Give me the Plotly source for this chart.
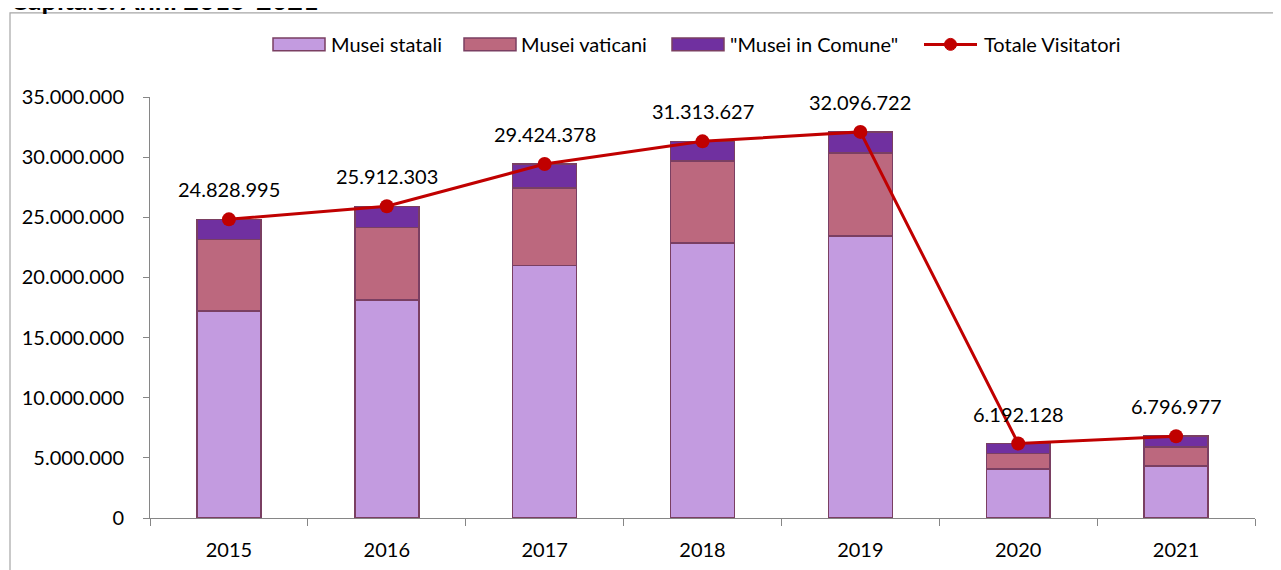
import plotly.graph_objects as go

anni = [2015, 2016, 2017, 2018, 2019, 2020, 2021]
anni_label = ["2015", "2016", "2017", "2018", "2019", "2020", "2021"]
musei_statali = [17220000, 18130000, 20990000, 22870000, 23450000, 4070000, 4340000]
musei_vaticani = [5950000, 6010000, 6440000, 6810000, 6890000, 1300000, 1580000]
totale_visitatori = [24828995, 25912303, 29424378, 31313627, 32096722, 6192128, 6796977]
musei_comune = [t - s - v for t, s, v in zip(totale_visitatori, musei_statali, musei_vaticani)]
y_ticks = [0, 5000000, 10000000, 15000000, 20000000, 25000000, 30000000, 35000000]
y_tick_text = ["0", "5.000.000", "10.000.000", "15.000.000", "20.000.000",
               "25.000.000", "30.000.000", "35.000.000"]
serie_nomi = ["Musei statali", "Musei vaticani", '"Musei in Comune"', "Totale Visitatori"]
serie_colori = ["#C39BE0", "#BC687E", "#7030A0", "#C00000"]

FONT = "Lato"
W, H = 1281, 570
OFF = 8  # page body margin
# plot area in screen pixels
SX0, SX1, SY0, SY1 = 150, 1255, 96.7, 518.3
L = SX0 - OFF
R = W - (SX1 - OFF)
T = SY0 - OFF
B = H - (SY1 - OFF)
pw, ph = SX1 - SX0, SY1 - SY0

def px(sx):
    return (sx - SX0) / pw

def py(sy):
    return (SY1 - sy) / ph

def fmt(v):
    return f"{v:,}".replace(",", ".")

OUTLINE_C = "#7A3F62"
outline = dict(color=OUTLINE_C, width=1.5)
BW = 0.405

fig = go.Figure()
for nome, col, vals in zip(serie_nomi[:3], serie_colori[:3],
                           [musei_statali, musei_vaticani, musei_comune]):
    fig.add_trace(go.Bar(x=anni, y=vals, name=nome,
                         marker=dict(color=col, line=outline), width=BW))
fig.add_trace(go.Scatter(x=anni, y=totale_visitatori, name=serie_nomi[3],
                         mode="lines+markers",
                         line=dict(color=serie_colori[3], width=3),
                         marker=dict(color=serie_colori[3], size=14)))

for a, t in zip(anni, totale_visitatori):
    fig.add_annotation(x=a, y=t, text=fmt(t), showarrow=False, yshift=30,
                       font=dict(family=FONT, size=20, color="#000000"))

# title (partially cut at top, as in reference)
fig.add_annotation(xref="paper", yref="paper", x=px(OFF), y=py(17.5),
                   xanchor="left", yanchor="bottom", showarrow=False,
                   text="<b>Capitale. Anni 2015-2021</b>",
                   font=dict(family=FONT, size=27, color="#000000"))

# outer frame
fig.add_shape(type="rect", xref="paper", yref="paper",
              x0=px(10), x1=px(1300), y0=py(620), y1=py(12.5),
              line=dict(color="#A6A6A6", width=1.2), fillcolor="rgba(0,0,0,0)",
              layer="below")

# legend (drawn like the reference: wide boxes)
box_x = [273, 464, 672]
text_x = [329, 519, 728, 982]
LY = 44
for bx, col in zip(box_x, serie_colori[:3]):
    fig.add_shape(type="rect", xref="paper", yref="paper",
                  x0=px(bx), x1=px(bx + 52), y0=py(LY + 6.5), y1=py(LY - 6.5),
                  fillcolor=col, line=dict(color=OUTLINE_C, width=1.5))
fig.add_shape(type="line", xref="paper", yref="paper",
              x0=px(924), x1=px(977), y0=py(LY), y1=py(LY),
              line=dict(color=serie_colori[3], width=3))
fig.add_shape(type="circle", xref="paper", yref="paper",
              x0=px(944.5), x1=px(956.5), y0=py(LY + 6), y1=py(LY - 6),
              fillcolor=serie_colori[3], line=dict(color=serie_colori[3], width=1))
for tx, nome in zip(text_x, serie_nomi):
    fig.add_annotation(xref="paper", yref="paper", x=px(tx), y=py(LY),
                       xanchor="left", yanchor="middle", showarrow=False,
                       text=nome, font=dict(family=FONT, size=20, color="#000000"))

fig.update_layout(
    width=W, height=H,
    margin=dict(l=L, r=R, t=T, b=B, autoexpand=False),
    barmode="stack",
    paper_bgcolor="white", plot_bgcolor="white",
    font=dict(family=FONT, size=20, color="#000000"),
    showlegend=False,
)
fig.update_xaxes(range=[2014.5, 2021.5], tickvals=anni, ticktext=anni_label,
                 showline=True, linecolor="#868686", linewidth=1,
                 ticks="outside", ticklen=14, tickcolor="rgba(0,0,0,0)",
                 minor=dict(tickvals=[2014.5 + i for i in range(8)], ticks="outside",
                            ticklen=7, tickcolor="#868686", showgrid=False),
                 showgrid=False, zeroline=False, tickangle=0,
                 tickfont=dict(family=FONT, size=20))
fig.update_yaxes(range=[0, 35000000], tickvals=y_ticks, ticktext=y_tick_text,
                 showline=True, linecolor="#868686", linewidth=1,
                 ticks="outside", ticklen=6, tickcolor="#868686",
                 showgrid=False, zeroline=False, tickfont=dict(family=FONT, size=20),
                 ticklabelstandoff=15)

fig.write_html("out.html")
